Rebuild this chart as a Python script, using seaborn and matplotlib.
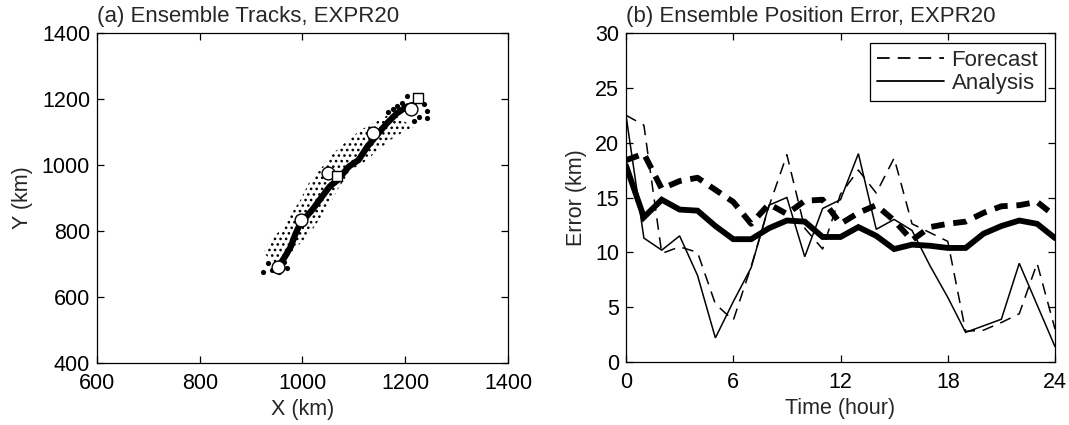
import numpy as np
import pandas as pd
import matplotlib
matplotlib.use("Agg")
import matplotlib.pyplot as plt
import seaborn as sns
from matplotlib.lines import Line2D

# ---------------- Panel (a): ensemble tracks ----------------
track_x = [953, 965, 977, 986, 996, 1019, 1038, 1053, 1069, 1090, 1109, 1126, 1145, 1164, 1184, 1203, 1216]
track_y = [692, 720, 752, 790, 824, 864, 904, 935, 955, 995, 1015, 1055, 1091, 1126, 1157, 1177, 1182]

circle_x = [953, 997, 1049, 1137, 1212]
circle_y = [692, 833, 975, 1096, 1170]
square_x = [1068, 1225]
square_y = [967, 1202]

member_x = [924, 933, 941, 954, 970, 964, 1166, 1176, 1184, 1194, 1204, 1236, 1243, 1243, 1217, 1226]
member_y = [677, 704, 682, 677, 687, 707, 1162, 1169, 1179, 1189, 1209, 1184, 1164, 1143, 1134, 1145]

spread_left_x = [945, 924, 938, 963, 983, 996, 1012, 1029, 1049, 1060, 1089, 1113, 1138, 1157, 1171]
spread_left_y = [705, 733, 773, 812, 864, 894, 945, 976, 1015, 1036, 1076, 1106, 1127, 1142, 1158]
spread_right_x = [1216, 1196, 1171, 1118, 1093, 1068, 1054, 1019, 1002, 971]
spread_right_y = [1115, 1100, 1076, 1006, 985, 924, 885, 803, 773, 721]

# ---------------- Panel (b): position error ----------------
hours = list(range(25))
fc_mean = [18.4, 19.0, 15.8, 16.5, 16.8, 15.7, 14.6, 12.6, 14.4, 13.5, 14.7, 14.8, 12.6,
           13.6, 14.3, 12.9, 11.1, 12.3, 12.6, 12.8, 13.6, 14.2, 14.3, 14.6, 13.3]
an_mean = [17.9, 13.2, 14.8, 13.9, 13.8, 12.4, 11.2, 11.2, 12.2, 12.9, 12.8, 11.4, 11.4,
           12.3, 11.5, 10.3, 10.7, 10.6, 10.4, 10.4, 11.7, 12.4, 12.9, 12.6, 11.3]
fc_member = [22.5, 21.6, 9.9, 10.5, 10.0, 5.3, 3.8, 8.7, 14.2, 18.9, 12.2, 10.3, 15.3,
             17.5, 15.4, 18.6, 12.6, 11.8, 11.0, 2.8, 2.9, 3.6, 4.4, 9.0, 3.0]
an_member = [22.5, 11.3, 10.2, 11.5, 7.9, 2.2, 5.5, 8.6, 14.3, 15.0, 9.6, 14.0, 14.8,
             19.0, 12.1, 13.0, 12.0, 8.8, 5.9, 2.7, 3.3, 3.9, 9.0, 5.2, 1.4]

legend_labels = ["Forecast", "Analysis"]

# ---------------- style ----------------
sns.set_style("ticks")
FS = 15.5
plt.rcParams["font.family"] = ["Liberation Sans", "DejaVu Sans"]
plt.rcParams["font.size"] = FS
plt.rcParams["axes.linewidth"] = 0.9
plt.rcParams["hatch.linewidth"] = 1.1

fig = plt.figure(figsize=(10.69, 4.25), dpi=100)
ax1 = fig.add_axes([97 / 1069, 62 / 425, 411 / 1069, 330 / 425])
ax2 = fig.add_axes([626 / 1069, 63 / 425, 429 / 1069, 329 / 425])

for ax in (ax1, ax2):
    ax.tick_params(direction="in", length=5, width=0.9, top=True, right=True,
                   labelsize=FS, colors="k")
    ax.tick_params(axis="x", pad=7)
    ax.tick_params(axis="y", pad=5)
    for s in ax.spines.values():
        s.set_color("k")
        s.set_visible(True)

# ---- panel (a)
poly_x = spread_left_x + spread_right_x
poly_y = spread_left_y + spread_right_y
ax1.fill(poly_x, poly_y, facecolor="none", edgecolor="k", hatch="...", linewidth=0, zorder=1)

sns.scatterplot(x=member_x, y=member_y, ax=ax1, color="k", s=14, edgecolor="k",
                linewidth=0, zorder=2, legend=False)
track_df = pd.DataFrame({"x": track_x, "y": track_y})
sns.lineplot(data=track_df, x="x", y="y", ax=ax1, sort=False, estimator=None,
             color="k", linewidth=4.5, zorder=3, legend=False)
sns.scatterplot(x=circle_x, y=circle_y, ax=ax1, marker="o", s=85, facecolor="white",
                edgecolor="k", linewidth=1.0, zorder=4, legend=False)
sns.scatterplot(x=square_x, y=square_y, ax=ax1, marker="s", s=60, facecolor="white",
                edgecolor="k", linewidth=1.0, zorder=4, legend=False)

ax1.set_xlim(600, 1400)
ax1.set_ylim(400, 1400)
ax1.set_xticks([600, 800, 1000, 1200, 1400])
ax1.set_yticks([400, 600, 800, 1000, 1200, 1400])
ax1.set_xlabel("X (km)", fontsize=FS, labelpad=4)
ax1.set_ylabel("Y (km)", fontsize=FS, labelpad=6)
ax1.set_title("(a) Ensemble Tracks, EXPR20", loc="left", fontsize=16, pad=8)

# ---- panel (b)
def draw(vals, lw, dashes, z):
    sns.lineplot(x=hours, y=vals, ax=ax2, color="k", linewidth=lw, zorder=z, legend=False)
    ln = ax2.get_lines()[-1]
    if dashes is not None:
        ln.set_dashes(dashes)
    ln.set_solid_joinstyle("miter")
    return ln

draw(fc_mean, 4.2, (2.3, 1.5), 2)
draw(an_mean, 4.2, None, 3)
draw(fc_member, 1.1, (7.5, 5.0), 4)
draw(an_member, 1.1, None, 5)

ax2.set_xlim(0, 24)
ax2.set_ylim(0, 30)
ax2.set_xticks([0, 6, 12, 18, 24])
ax2.set_yticks([0, 5, 10, 15, 20, 25, 30])
ax2.set_xlabel("Time (hour)", fontsize=FS, labelpad=4)
ax2.set_ylabel("Error (km)", fontsize=FS, labelpad=6)
ax2.set_title("(b) Ensemble Position Error, EXPR20", loc="left", fontsize=16, pad=8)

handles = [Line2D([], [], color="k", lw=1.3, dashes=(7, 4.5)),
           Line2D([], [], color="k", lw=1.3)]
leg = ax2.legend(handles, legend_labels, loc="upper right", fontsize=16,
                 frameon=True, fancybox=False, framealpha=1, edgecolor="k",
                 handlelength=3.0, handletextpad=0.35, borderpad=0.3,
                 labelspacing=0.1, borderaxespad=0.45)
leg.get_frame().set_linewidth(0.9)

fig.savefig("out.png", dpi=100)
